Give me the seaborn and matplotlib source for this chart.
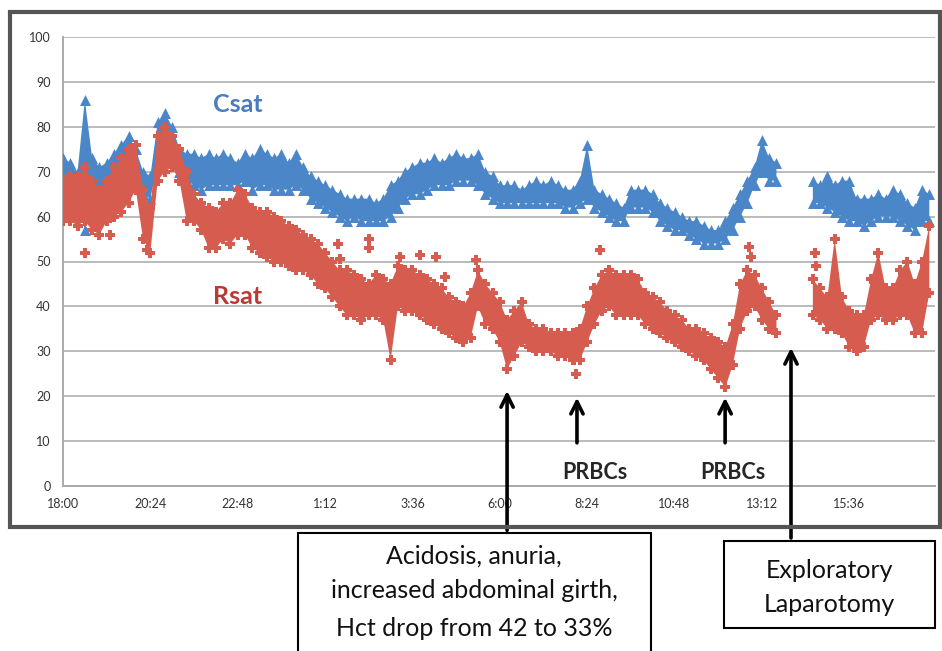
import matplotlib
matplotlib.use("Agg")
import matplotlib.pyplot as plt
from matplotlib.patches import Rectangle
import numpy as np
import pandas as pd
import seaborn as sns

nan = np.nan

# readings every 12 minutes starting 18:00 (upper / lower edge of the cloud)
step_h = 0.2
csat_hi = [73, 72, 70, 86, 73, 71, 72, 74, 76, 78,
           75, 70, 69, 81, 83, 80, 75, 74, 74, 73,
           74, 73, 74, 73, 72, 74, 73, 75, 74, 73,
           74, 72, 74, 71, 69, 68, 67, 66, 65, 64,
           64, 64, 64, 63, 64, 67, 68, 70, 71, 72,
           72, 73, 72, 73, 74, 73, 73, 74, 70, 69,
           67, 67, 67, 66, 67, 68, 67, 68, 67, 66,
           66, 68, 76, 66, 65, 64, 63, 62, 66, 66,
           66, 65, 63, 62, 61, 60, 59, 59, 58, 57,
           57, 59, 62, 65, 68, 71, 77, 73, 72, nan,
           nan, nan, nan, 68, 67, 69, 67, 68, 68, 64,
           64, 64, 65, 64, 66, 65, 63, 62, 66, 65]
csat_lo = [67, 67, 64, 57, 68, 66, 67, 68, 70, 71,
           69, 65, 64, 72, 77, 73, 70, 68, 67, 66,
           67, 67, 67, 67, 67, 68, 66, 67, 67, 66,
           66, 66, 67, 66, 64, 63, 62, 61, 60, 59,
           60, 59, 59, 59, 59, 60, 62, 64, 65, 65,
           66, 67, 67, 67, 68, 68, 68, 67, 65, 64,
           63, 63, 63, 63, 63, 63, 63, 63, 63, 62,
           62, 63, 64, 62, 61, 60, 59, 59, 62, 62,
           62, 61, 59, 58, 57, 57, 56, 55, 54, 54,
           54, 55, 57, 60, 63, 67, 70, 68, 68, nan,
           nan, nan, nan, 63, 63, 62, 61, 60, 59, 59,
           58, 59, 60, 60, 60, 59, 58, 57, 59, 59]
rsat_hi = [68, 69, 69, 71, 68, 66, 68, 71, 73, 75,
           76, 66, 62, 78, 80, 78, 75, 70, 65, 63,
           62, 61, 63, 63, 66, 65, 62, 61, 61, 60,
           59, 58, 57, 56, 55, 54, 52, 50, 48, 48,
           47, 46, 45, 47, 46, 45, 49, 48, 48, 47,
           46, 45, 44, 42, 41, 40, 43, 48, 45, 43,
           41, 37, 39, 41, 36, 35, 35, 34, 34, 34,
           34, 35, 40, 44, 47, 48, 47, 47, 47, 46,
           43, 42, 41, 39, 38, 37, 35, 35, 34, 33,
           32, 31, 36, 45, 48, 47, 44, 41, 38, nan,
           nan, nan, nan, 46, 44, 42, 55, 42, 39, 38,
           38, 46, 52, 44, 44, 48, 50, 45, 50, 58]
rsat_lo = [59, 59, 58, 59, 57, 56, 59, 60, 61, 63,
           66, 55, 52, 68, 70, 71, 68, 59, 59, 57,
           53, 53, 55, 54, 56, 56, 53, 52, 51, 50,
           50, 49, 48, 48, 47, 45, 44, 42, 40, 38,
           38, 37, 38, 38, 37, 28, 40, 39, 39, 38,
           37, 36, 35, 34, 33, 32, 33, 40, 36, 35,
           32, 26, 29, 32, 31, 30, 30, 30, 29, 29,
           28, 28, 32, 36, 39, 40, 38, 38, 38, 38,
           36, 35, 34, 33, 32, 31, 30, 29, 28, 26,
           24, 22, 27, 35, 39, 40, 37, 35, 34, nan,
           nan, nan, nan, 38, 37, 35, 35, 34, 31, 30,
           31, 37, 38, 37, 37, 38, 38, 34, 34, 43]

# scattered single Rsat readings away from the main cloud
rsat_out_t = [0.6, 1.0, 1.3, 2.3, 7.55, 7.6, 8.4, 8.4, 9.25, 9.8, 10.25, 10.5,
              11.35, 14.1, 14.05, 14.75, 18.85, 18.9, 20.65, 20.7]
rsat_out_v = [52, 56, 56, 52.5, 54, 50.5, 55, 53, 51, 51.5, 51, 46.5,
              50.3, 25, 28, 52.5, 53.3, 51, 52, 49]

tick_pos = [0, 2.4, 4.8, 7.2, 9.6, 12.0, 14.4, 16.8, 19.2, 21.6]
tick_labels = ["18:00", "20:24", "22:48", "1:12", "3:36", "6:00", "8:24", "10:48", "13:12", "15:36"]

hours = np.arange(len(csat_hi)) * step_h

sns.set_style("white")
plt.rcParams["font.family"] = ["Lato", "DejaVu Sans"]

blue = "#4a86c8"
red = "#d65c50"

fig = plt.figure(figsize=(9.42, 6.51), dpi=100)
ax = fig.add_axes([63 / 942, 1 - 486 / 651, 872 / 942, 449 / 651])


def draw_series(hi, lo, color, marker):
    hi = np.array(hi, dtype=float)
    lo = np.array(lo, dtype=float)
    ax.fill_between(hours, lo, hi, color=color, lw=0, zorder=3)
    d = pd.DataFrame({"t": np.concatenate([hours, hours]),
                      "v": np.concatenate([hi, lo])}).dropna()
    sns.scatterplot(data=d, x="t", y="v", ax=ax, color=color, marker=marker,
                    s=62, linewidth=0, zorder=3, legend=False)


draw_series(csat_hi, csat_lo, blue, "^")
draw_series(rsat_hi, rsat_lo, red, "P")
sns.scatterplot(x=rsat_out_t, y=rsat_out_v, ax=ax, color=red, marker="P",
                s=62, linewidth=0, zorder=3, legend=False)

ax.set_xlim(0, 872 / 36.4)
ax.set_ylim(0, 100)
ax.set_yticks(range(0, 101, 10))
ax.set_xticks(tick_pos)
ax.set_xticklabels(tick_labels)
ax.yaxis.grid(True, color="#bbbbbb", lw=1.4)
ax.set_axisbelow(True)
ax.tick_params(axis="both", labelsize=9, colors="#333333", length=4, width=1, pad=5)
ax.tick_params(axis="both", color="#aaaaaa")
for s in ["top", "right"]:
    ax.spines[s].set_visible(False)
for s in ["left", "bottom"]:
    ax.spines[s].set_color("#aaaaaa")
    ax.spines[s].set_linewidth(1.4)
ax.set_xlabel("")
ax.set_ylabel("")

ax.text(4.8, 85, "Csat", color="#4a7cc0", fontsize=18, fontweight="bold", ha="center", va="center")
ax.text(4.8, 42.3, "Rsat", color="#b83a33", fontsize=18, fontweight="bold", ha="center", va="center")

arrow = dict(arrowstyle="->", lw=2.6, color="black", mutation_scale=22)
ax.annotate("", xy=(12.2, 21.8), xytext=(12.2, -10.5), arrowprops=arrow, annotation_clip=False, zorder=6)
ax.annotate("", xy=(20.0, 31.4), xytext=(20.0, -12.2), arrowprops=arrow, annotation_clip=False, zorder=6)
ax.annotate("", xy=(14.12, 20.3), xytext=(14.12, 9.0), arrowprops=arrow, annotation_clip=False, zorder=6)
ax.annotate("", xy=(18.19, 20.3), xytext=(18.19, 9.0), arrowprops=arrow, annotation_clip=False, zorder=6)
ax.text(14.62, 3.1, "PRBCs", fontsize=15.5, fontweight="bold", ha="center", va="center", zorder=6)
ax.text(18.4, 3.1, "PRBCs", fontsize=15.5, fontweight="bold", ha="center", va="center", zorder=6)

# outer frame and annotation boxes
fig.add_artist(Rectangle((10 / 942, 1 - 527 / 651), 930 / 942, 515 / 651, transform=fig.transFigure,
                         fill=False, edgecolor="#555555", lw=3))
fig.add_artist(Rectangle((298 / 942, -0.05), 353 / 942, 1 - 533 / 651 + 0.05, transform=fig.transFigure,
                         facecolor="white", edgecolor="black", lw=1.5))
fig.add_artist(Rectangle((724 / 942, 1 - 628 / 651), 211 / 942, 87 / 651, transform=fig.transFigure,
                         facecolor="white", edgecolor="black", lw=1.5))
for txt, py in [("Acidosis, anuria,", 556), ("increased abdominal girth,", 591), ("Hct drop from 42 to 33%", 628)]:
    fig.text(474 / 942, 1 - py / 651, txt, fontsize=18, ha="center", va="center", color="#111111")
for txt, py in [("Exploratory", 571), ("Laparotomy", 604)]:
    fig.text(829 / 942, 1 - py / 651, txt, fontsize=18, ha="center", va="center", color="#111111")

fig.savefig("out.png", dpi=100)
